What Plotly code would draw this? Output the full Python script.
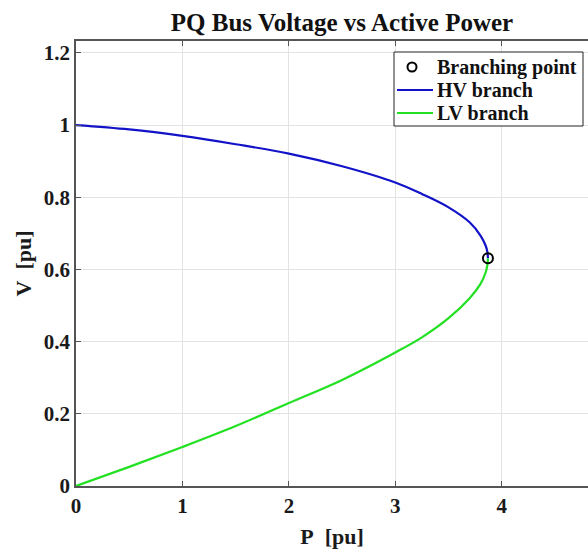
import plotly.graph_objects as go

# High-voltage branch of the PV (nose) curve: active power P [pu] vs bus voltage V [pu]
hv_p = [0.0, 0.5, 1.0, 1.5, 2.0, 2.5, 3.0, 3.25, 3.5, 3.7, 3.8, 3.85, 3.865, 3.87]
hv_v = [1.0, 0.988, 0.970, 0.947, 0.921, 0.886, 0.841, 0.809, 0.772, 0.730, 0.694, 0.665, 0.648, 0.631]

# Low-voltage branch
lv_p = [0.0, 0.5, 1.0, 1.5, 2.0, 2.5, 3.0, 3.25, 3.5, 3.7, 3.8, 3.85, 3.865, 3.87]
lv_v = [0.0, 0.053, 0.108, 0.166, 0.230, 0.294, 0.370, 0.412, 0.465, 0.521, 0.560, 0.593, 0.613, 0.631]

# Nose point where the two branches meet
branch_p = [3.87]
branch_v = [0.631]

x_ticks = [0, 1, 2, 3, 4]
y_ticks = [0, 0.2, 0.4, 0.6, 0.8, 1.0, 1.2]
y_tick_text = ["0", "0.2", "0.4", "0.6", "0.8", "1", "1.2"]

legend_names = ["Branching point", "HV branch", "LV branch"]

serif = "Liberation Serif, Times New Roman, serif"
ink = "#1a1a1a"
hv_color = "#1212c8"
lv_color = "#22e022"

W, H = 588, 552
M_L, M_R, M_T, M_B = 76, 0, 41, 66
PLOT_W = W - M_L - M_R
PLOT_H = H - M_T - M_B


def fx(px):
    """Pixel column -> paper x fraction of the plot area."""
    return (px - M_L) / PLOT_W


def fy(py):
    """Pixel row -> paper y fraction of the plot area."""
    return (H - M_B - py) / PLOT_H


fig = go.Figure()
fig.add_trace(go.Scatter(
    x=hv_p, y=hv_v, mode="lines", name=legend_names[1],
    line=dict(color=hv_color, width=2.2, shape="spline", smoothing=1.0),
))
fig.add_trace(go.Scatter(
    x=lv_p, y=lv_v, mode="lines", name=legend_names[2],
    line=dict(color=lv_color, width=2.2, shape="spline", smoothing=1.0),
))
fig.add_trace(go.Scatter(
    x=branch_p, y=branch_v, mode="markers", name=legend_names[0],
    marker=dict(symbol="circle-open", size=10, color="black", line=dict(width=2, color="black")),
))

axis_common = dict(
    showgrid=True, gridcolor="#e3e3e3", gridwidth=1,
    showline=True, linecolor="#555555", linewidth=1.5,
    ticks="inside", ticklen=5, tickcolor="#555555",
    zeroline=False,
    tickfont=dict(family=serif, size=21, color=ink, weight="bold"),
)

# Boxed legend in the upper-right corner of the axes
box_l, box_r, box_t, box_b = 394, 583, 52, 126
row_y = [67, 90, 113]
sample_l, sample_r = 397, 433
text_x = 435

shapes = [
    dict(type="rect", xref="paper", yref="paper",
         x0=fx(box_l), x1=fx(box_r), y0=fy(box_b), y1=fy(box_t),
         line=dict(color="#222222", width=1), fillcolor="white", layer="above"),
    dict(type="circle", xref="paper", yref="paper",
         x0=fx(412 - 4.5), x1=fx(412 + 4.5), y0=fy(row_y[0] + 4.5), y1=fy(row_y[0] - 4.5),
         line=dict(color="black", width=2), layer="above"),
    dict(type="line", xref="paper", yref="paper",
         x0=fx(sample_l), x1=fx(sample_r), y0=fy(row_y[1]), y1=fy(row_y[1]),
         line=dict(color=hv_color, width=2.2), layer="above"),
    dict(type="line", xref="paper", yref="paper",
         x0=fx(sample_l), x1=fx(sample_r), y0=fy(row_y[2]), y1=fy(row_y[2]),
         line=dict(color=lv_color, width=2.2), layer="above"),
]

annotations = [
    dict(text=name, xref="paper", yref="paper", x=fx(text_x), y=fy(ry),
         xanchor="left", yanchor="middle", showarrow=False,
         font=dict(family=serif, size=20, color="#111111", weight="bold"))
    for name, ry in zip(legend_names, row_y)
]

fig.update_layout(
    width=W, height=H,
    margin=dict(l=M_L, r=M_R, t=M_T, b=M_B),
    paper_bgcolor="white", plot_bgcolor="white",
    showlegend=False,
    shapes=shapes,
    annotations=annotations,
    title=dict(
        text="PQ Bus Voltage vs Active Power",
        font=dict(family=serif, size=25, color="#111111", weight="bold"),
        x=342 / W, xref="container", xanchor="center",
        y=1 - 22 / H, yref="container", yanchor="middle",
    ),
    xaxis=dict(
        axis_common, range=[0, 4.81], tickvals=x_ticks, mirror="ticks",
        title=dict(text="P\u00a0\u00a0[pu]", standoff=12,
                   font=dict(family=serif, size=22, color=ink, weight="bold")),
    ),
    yaxis=dict(
        axis_common, range=[0, 1.233], tickvals=y_ticks, ticktext=y_tick_text,
        title=dict(text="V\u00a0\u00a0[pu]", standoff=6,
                   font=dict(family=serif, size=22, color=ink, weight="bold")),
    ),
)

fig.write_html("out.html")
